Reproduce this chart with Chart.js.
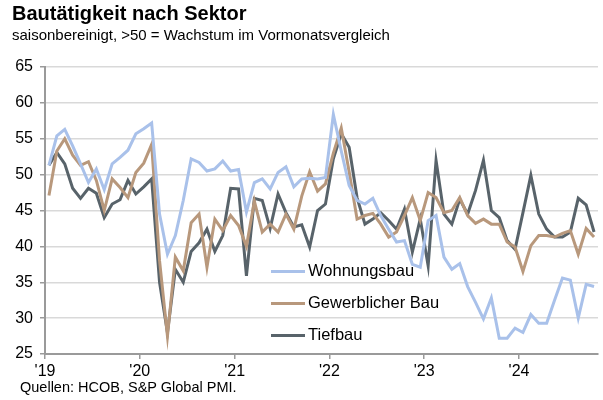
<!DOCTYPE html>
<html lang="de">
<head>
  <meta charset="UTF-8" />
  <title>Bautätigkeit nach Sektor</title>
  <script src="https://cdn.jsdelivr.net/npm/chart.js"></script>
  <style>
    body { margin: 0; background: #fff; font-family: "Liberation Sans", Arial, sans-serif; color: #000; }
    #wrap { position: relative; width: 603px; height: 400px; overflow: hidden; }
    #chartBox { position: absolute; left: 0; top: 0; width: 603px; height: 400px; }
    .txt { position: absolute; white-space: nowrap; }
    #title { left: 12px; top: 2px; font-size: 20px; font-weight: bold; }
    #subtitle { left: 12px; top: 26px; font-size: 15px; }
    #source { left: 20px; top: 379px; font-size: 14.5px; }
    #legend { position: absolute; left: 271px; top: 259px; }
    .item { position: relative; height: 32px; font-size: 16.5px; }
    .swatch { position: absolute; left: 0; top: 11px; width: 34px; height: 3px; }
    .lab { position: absolute; left: 37px; top: 2px; white-space: nowrap; }
  </style>
</head>
<body>
  <div id="wrap">
    <div id="chartBox"><canvas id="chart"></canvas></div>
    <div id="title" class="txt">Bautätigkeit nach Sektor</div>
    <div id="subtitle" class="txt">saisonbereinigt, &gt;50 = Wachstum im Vormonatsvergleich</div>
    <div id="source" class="txt">Quellen: HCOB, S&amp;P Global PMI.</div>
    <div id="legend"></div>
  </div>

  <script>
    // Monatswerte Jan 2019 - Okt 2024
    const wohnungsbau = [
      51.3, 55.4, 56.3, 54.0, 51.5, 48.9, 50.8, 47.9, 51.5, 52.4, 53.4, 55.7,
      56.4, 57.2, 44.5, 38.9, 41.5, 46.4, 52.2, 51.7, 50.5, 50.8, 51.9, 50.5,
      50.7, 44.8, 48.9, 49.4, 48.0, 50.3, 51.1, 48.3, 49.4, 49.5, 49.4, 49.6,
      58.4, 53.3, 48.5, 46.4, 45.9, 46.7, 44.3, 42.4, 40.6, 40.8, 37.5, 37.1,
      43.6, 44.3, 38.5, 36.8, 37.6, 34.4, 32.2, 29.9, 32.8, 27.2, 27.2, 28.6,
      28.0, 30.5, 29.3, 29.3, 32.5, 35.6, 35.3, 30.0, 34.7, 34.4
    ];
    const gewerbebau = [
      47.1, 53.3, 55.0, 52.7, 51.3, 51.8, 49.2, 45.0, 49.4, 48.2, 46.8, 50.3,
      51.6, 54.2, 38.0, 27.5, 38.5, 36.6, 43.3, 44.5, 37.1, 43.8, 42.2, 44.3,
      42.9, 40.0, 46.3, 42.0, 43.1, 42.0, 44.5, 42.4, 47.0, 50.4, 47.7, 48.7,
      53.0, 56.5, 50.4, 43.8, 44.3, 44.6, 43.1, 41.3, 42.0, 44.3, 46.8, 43.6,
      47.5, 46.8, 44.7, 45.0, 46.8, 44.3, 43.2, 43.8, 43.1, 43.1, 40.6, 39.9,
      36.5, 40.1, 41.5, 41.5, 41.3, 41.8, 42.2, 38.9, 42.5, 41.3
    ];
    const tiefbau = [
      51.3, 53.1, 51.5, 48.1, 46.7, 48.1, 47.4, 44.0, 45.9, 46.5, 49.2, 47.3,
      48.3, 49.4, 35.0, 28.0, 36.8, 35.0, 39.3, 40.5, 42.4, 39.3, 41.5, 48.1,
      48.0, 35.9, 46.7, 46.4, 42.5, 47.3, 44.7, 42.7, 43.0, 39.9, 45.0, 45.9,
      52.2, 55.7, 53.8, 46.8, 43.1, 43.8, 44.7, 43.6, 42.4, 45.2, 39.2, 43.8,
      37.3, 52.0, 44.5, 43.1, 46.6, 44.5, 47.8, 52.0, 45.0, 44.0, 40.8, 39.6,
      44.7, 49.9, 44.5, 42.4, 41.3, 41.3, 42.0, 46.7, 45.8, 42.0
    ];
    const yearLabels = ["'19", "'20", "'21", "'22", "'23", "'24"];
    const seriesNames = ['Wohnungsbau', 'Gewerblicher Bau', 'Tiefbau'];
    const seriesColors = ['#a9c1ea', '#b8987c', '#58636a'];

    const toPoints = arr => arr.map((v, i) => ({ x: i, y: v }));
    const datasets = [wohnungsbau, gewerbebau, tiefbau].map((arr, k) => ({
      label: seriesNames[k],
      data: toPoints(arr),
      borderColor: seriesColors[k],
      borderWidth: 3,
      pointRadius: 0,
      tension: 0,
      fill: false
    }));

    // Legende als HTML
    const legend = document.getElementById('legend');
    datasets.forEach(ds => {
      const item = document.createElement('div');
      item.className = 'item';
      item.innerHTML = '<div class="swatch" style="background:' + ds.borderColor + '"></div><div class="lab">' + ds.label + '</div>';
      legend.appendChild(item);
    });

    const tickFont = { family: '"Liberation Sans", Arial, sans-serif', size: 16 };

    new Chart(document.getElementById('chart'), {
      type: 'line',
      data: { datasets },
      options: {
        responsive: true,
        maintainAspectRatio: false,
        animation: false,
        layout: { padding: { left: 0, right: 5, top: 67, bottom: 0 } },
        plugins: { legend: { display: false }, tooltip: { enabled: false } },
        scales: {
          x: {
            type: 'linear',
            min: -0.5,
            max: 69.5,
            afterBuildTicks: scale => {
              scale.ticks = yearLabels.map((_, i) => ({ value: i * 12 - 0.5 }));
            },
            afterFit: scale => { scale.height = 46; },
            ticks: {
              autoSkip: false,
              maxRotation: 0,
              color: '#000',
              font: tickFont,
              padding: 3,
              callback: (val) => yearLabels[Math.round((val + 0.5) / 12)]
            },
            grid: { drawOnChartArea: false, tickLength: 5, color: '#9a9a9a', lineWidth: 1.5 },
            border: { color: '#9a9a9a', width: 2 }
          },
          y: {
            min: 25,
            max: 65,
            afterFit: scale => { scale.width = 45; },
            ticks: { stepSize: 5, color: '#000', font: tickFont, padding: 7 },
            grid: { color: '#d9d9d9', lineWidth: 1.5, tickLength: 5, tickColor: '#9a9a9a' },
            border: { color: '#9a9a9a', width: 2 }
          }
        }
      }
    });
  </script>
</body>
</html>
